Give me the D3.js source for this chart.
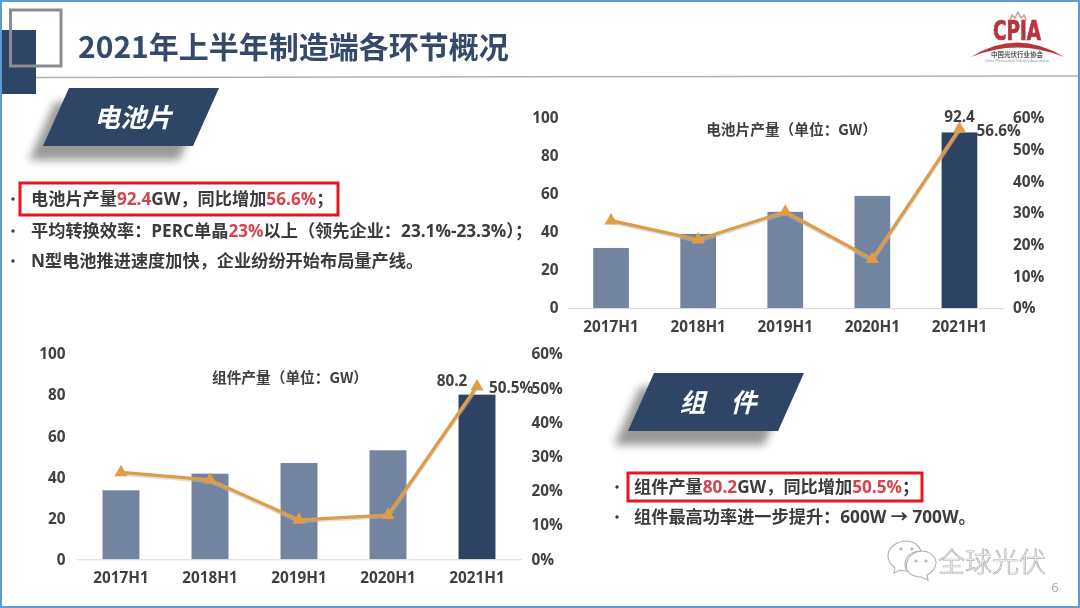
<!DOCTYPE html>
<html lang="zh-CN">
<head>
<meta charset="UTF-8">
<title>2021年上半年制造端各环节概况</title>
<style>
    html, body { margin: 0; padding: 0; background: #fff; }
    svg { display: block; font-family: "Open Sans", "Noto Sans CJK SC", sans-serif; }
    .tick-label { font-size: 15.3px; font-weight: 700; fill: #404040; font-family: "Open Sans", "Noto Sans CJK SC", sans-serif; }
    .cjk { font-family: "Noto Sans CJK SC", sans-serif; }
</style>
</head>
<body>
<svg id="slide" width="1080" height="608"></svg>
<script src="https://cdnjs.cloudflare.com/ajax/libs/d3/7.8.5/d3.min.js"></script>
<script>
"use strict"

const categories = ["2017H1", "2018H1", "2019H1", "2020H1", "2021H1"];
const cellOutput = [31.6, 39, 50.6, 59, 92.4];
const cellGrowth = [27.6, 21.6, 30.4, 15.4, 56.6];
const moduleOutput = [33.6, 41.7, 46.9, 53.1, 80.2];
const moduleGrowth = [25.4, 23.2, 11.5, 12.9, 50.5];
const outputTicks = [0, 20, 40, 60, 80, 100];
const growthTicks = [0, 10, 20, 30, 40, 50, 60];

const NAVY = "#2f4465", RED = "#d8434f", TEXT = "#3a3a3a";
const svg = d3.select("#slide");

const defs = svg.append("defs");
defs.append("filter").attr("id", "blur6").attr("x", "-30%").attr("y", "-50%")
    .attr("width", "160%").attr("height", "200%")
    .append("feGaussianBlur").attr("stdDeviation", 4.5);
defs.append("filter").attr("id", "soft")
    .append("feGaussianBlur").attr("stdDeviation", 0.45);

const page = svg.append("g").attr("filter", "url(#soft)");

page.append("rect").attr("width", 1080).attr("height", 608).attr("fill", "#fff");

/* title band */
page.append("line").attr("x1", 36).attr("x2", 1079).attr("y1", 77.5).attr("y2", 76)
    .attr("stroke", "#b0b0b0").attr("stroke-width", 1.5);
page.append("rect").attr("x", 1).attr("y", 30).attr("width", 35).attr("height", 64).attr("fill", NAVY);
page.append("rect").attr("x", 10.5).attr("y", 10).attr("width", 50.5).attr("height", 56)
    .attr("fill", "none").attr("stroke", "#8b8d90").attr("stroke-width", 3);
page.append("text").attr("class", "cjk").attr("x", 78).attr("y", 58)
    .attr("font-size", 30).attr("font-weight", 700).attr("fill", "#34496a")
    .text("2021年上半年制造端各环节概况");

/* logo */
const logo = page.append("g");
logo.append("text").attr("x", 1017).attr("y", 40).attr("text-anchor", "middle")
    .attr("font-family", "'Liberation Sans Narrow', 'DejaVu Sans Condensed', sans-serif")
    .attr("font-size", 27).attr("font-weight", 700).attr("fill", "#b8343c")
    .attr("stroke", "#b8343c").attr("stroke-width", 0.7)
    .attr("textLength", 48).attr("lengthAdjust", "spacingAndGlyphs").text("CPIA");
logo.append("path").attr("d", "M971 57 Q1017 28 1064 57 Q1017 38 971 57Z").attr("fill", "#b8343c");
logo.append("path").attr("d", "M1010 20 L1012 15 L1015 18 L1018 12 L1021 18 L1024 15 L1026 20")
    .attr("fill", "none").attr("stroke", "#d99a8a").attr("stroke-width", 1.5);
logo.append("text").attr("class", "cjk").attr("x", 1017).attr("y", 57).attr("text-anchor", "middle")
    .attr("font-size", 6.5).attr("font-weight", 700).attr("fill", "#555").text("中国光伏行业协会");
logo.append("text").attr("x", 1017).attr("y", 62).attr("text-anchor", "middle")
    .attr("font-size", 3.5).attr("fill", "#888").text("China Photovoltaic Industry Association");

function banner(x, y, label, wordGap) {
    const shape = `M${x + 26} ${y} H${x + 176} L${x + 150} ${y + 58} H${x} Z`;
    page.append("path").attr("d", shape).attr("transform", "translate(-14,14)")
        .attr("fill", "#777").attr("opacity", 0.75).attr("filter", "url(#blur6)");
    page.append("path").attr("d", shape).attr("fill", "#2f4465");
    page.append("text").attr("class", "cjk").attr("x", x + 90).attr("y", y + 39)
        .attr("text-anchor", "middle").attr("font-size", 26).attr("font-weight", 700)
        .attr("font-style", "italic").attr("fill", "#fff")
        .attr("word-spacing", wordGap).text(label);
}
banner(43, 88, "电池片", 0);
banner(628, 373, "组 件", 19);

/* one bullet line; parts are [string, isRed] */
function bullet(bx, x, y, parts) {
    page.append("circle").attr("cx", bx).attr("cy", y).attr("r", 1.7).attr("fill", TEXT);
    const t = page.append("text").attr("x", x).attr("y", y + 6).attr("font-size", 17.2)
        .attr("font-weight", 700).attr("fill", TEXT)
        .attr("font-family", "'Open Sans', 'Noto Sans CJK SC', sans-serif");
    parts.forEach(p => t.append("tspan").attr("fill", p[1] ? RED : TEXT).text(p[0]));
}
function redBox(x, y, w, h) {
    page.append("rect").attr("x", x).attr("y", y).attr("width", w).attr("height", h)
        .attr("fill", "none").attr("stroke", "#e8141f").attr("stroke-width", 3);
}

redBox(20, 183, 318, 32);
bullet(13, 31, 199, [["电池片产量"], ["92.4", 1], ["GW，同比增加"], ["56.6%", 1], ["；"]]);
bullet(13, 31, 231, [["平均转换效率：PERC单晶"], ["23%", 1], ["以上（领先企业：23.1%-23.3%）；"]]);
bullet(13, 31, 261, [["N型电池推进速度加快，企业纷纷开始布局量产线。"]]);

redBox(628, 473, 294, 28);
bullet(617, 634, 487, [["组件产量"], ["80.2", 1], ["GW，同比增加"], ["50.5%", 1], ["；"]]);
bullet(617, 634, 517, [["组件最高功率进一步提升：600W → 700W。"]]);

/* combo chart: bars on left scale, growth line on right scale */
function drawChart(o) {
    const x = d3.scaleBand().domain(categories).range([o.left, o.right]).paddingInner(o.pad).paddingOuter(o.pad / 2);
    const yOut = d3.scaleLinear().domain([0, 100]).range([o.bottom, o.top]);
    const yPct = d3.scaleLinear().domain([0, 60]).range([o.bottom, o.top]);
    const g = page.append("g");
    const mid = d => x(d) + x.bandwidth() / 2;

    const leftAxis = g.append("g").attr("transform", `translate(${o.left},0)`)
        .call(d3.axisLeft(yOut).tickValues(outputTicks).tickSize(0).tickPadding(o.leftPad));
    leftAxis.select(".domain").remove();

    const rightAxis = g.append("g").attr("transform", `translate(${o.right},0)`)
        .call(d3.axisRight(yPct).tickValues(growthTicks).tickSize(0).tickPadding(o.rightPad).tickFormat(d => d + "%"));
    rightAxis.select(".domain").remove();

    g.selectAll(".bar").data(o.output).enter().append("rect").attr("class", "bar")
        .attr("x", (d, i) => x(categories[i]))
        .attr("y", d => yOut(d))
        .attr("width", x.bandwidth())
        .attr("height", d => yOut(0) - yOut(d))
        .attr("fill", (d, i) => i === categories.length - 1 ? "#2e4263" : "#72849f");

    const bottomAxis = g.append("g").attr("transform", `translate(0,${o.bottom})`)
        .call(d3.axisBottom(x).tickSize(0).tickPadding(o.xPad));
    bottomAxis.select(".domain").attr("stroke", "#d9d9d9");

    g.selectAll(".tick text").attr("class", "tick-label");

    const line = d3.line().x((d, i) => mid(categories[i])).y(d => yPct(d));
    g.append("path").datum(o.growth).attr("d", line).attr("fill", "none")
        .attr("stroke", "#bbb").attr("stroke-width", 4.5).attr("opacity", 0.5).attr("transform", "translate(0,1)");
    g.append("path").datum(o.growth).attr("d", line).attr("fill", "none")
        .attr("stroke", "#de9c48").attr("stroke-width", 3.2).attr("stroke-linejoin", "round");
    g.selectAll(".mark").data(o.growth).enter().append("path").attr("class", "mark")
        .attr("d", d3.symbol(d3.symbolTriangle, 75))
        .attr("transform", (d, i) => `translate(${mid(categories[i])},${yPct(d)})`)
        .attr("fill", "#e09c46");

    const last = categories.length - 1;
    g.append("text").attr("class", "tick-label")
        .attr("x", mid(categories[last]) + o.valDx).attr("y", yOut(o.output[last]) + o.valDy)
        .attr("text-anchor", "middle").text(o.output[last].toFixed(1));
    g.append("text").attr("class", "tick-label")
        .attr("x", mid(categories[last]) + o.pctDx).attr("y", yPct(o.growth[last]) + o.pctDy)
        .text(o.growth[last].toFixed(1) + "%");

    g.append("text").attr("class", "cjk").attr("x", o.titleX).attr("y", o.titleY)
        .attr("text-anchor", "middle").attr("font-size", 14.7).attr("font-weight", 700).attr("fill", "#404040")
        .text(o.title);
}

drawChart({
    output: cellOutput, growth: cellGrowth, title: "电池片产量（单位：GW）",
    left: 567.5, right: 1003, top: 118, bottom: 308, pad: 0.59, leftPad: 9, rightPad: 10, xPad: 13,
    valDx: 0, valDy: -10, pctDx: 17, pctDy: 7, titleX: 791.5, titleY: 135
});
drawChart({
    output: moduleOutput, growth: moduleGrowth, title: "组件产量（单位：GW）",
    left: 76.5, right: 521.5, top: 354, bottom: 559.3, pad: 0.585, leftPad: 11, rightPad: 10, xPad: 13,
    valDx: -25, valDy: -9, pctDx: 12, pctDy: 6, titleX: 290, titleY: 383
});

/* watermark */
const wm = page.append("g").attr("fill", "none").attr("stroke", "#b0b0b0").attr("stroke-width", 1.1);
wm.append("path").attr("d", "M907 541 C896 541 888 548 888 556 C888 561 891 565 895 568 L894 573 L900 570 C903 571 905 571 907 571 C905 565 907 553 921 551 C919 545 913 541 907 541Z");
wm.append("path").attr("d", "M921 551 C911 551 905 557 905 564 C905 571 912 577 921 577 L928 580 L927 575 C932 572 936 568 936 563 C936 556 929 551 921 551Z");
[[901, 549], [912, 549], [916, 561], [926, 561]].forEach(p => {
    wm.append("circle").attr("cx", p[0]).attr("cy", p[1]).attr("r", 1).attr("fill", "#b0b0b0");
});
page.append("text").attr("class", "cjk").attr("x", 938).attr("y", 572)
    .attr("font-size", 27).attr("font-weight", 300).attr("fill", "#fff")
    .attr("stroke", "#adadad").attr("stroke-width", 0.7).text("全球光伏");

page.append("text").attr("x", 1055).attr("y", 592).attr("text-anchor", "middle")
    .attr("font-size", 13).attr("fill", "#aaa").text("6");

/* outer blue frame of the screenshot */
page.append("rect").attr("x", 1).attr("y", 1).attr("width", 1078).attr("height", 606)
    .attr("fill", "none").attr("stroke", "#5b9bd5").attr("stroke-width", 2);
</script>
</body>
</html>
